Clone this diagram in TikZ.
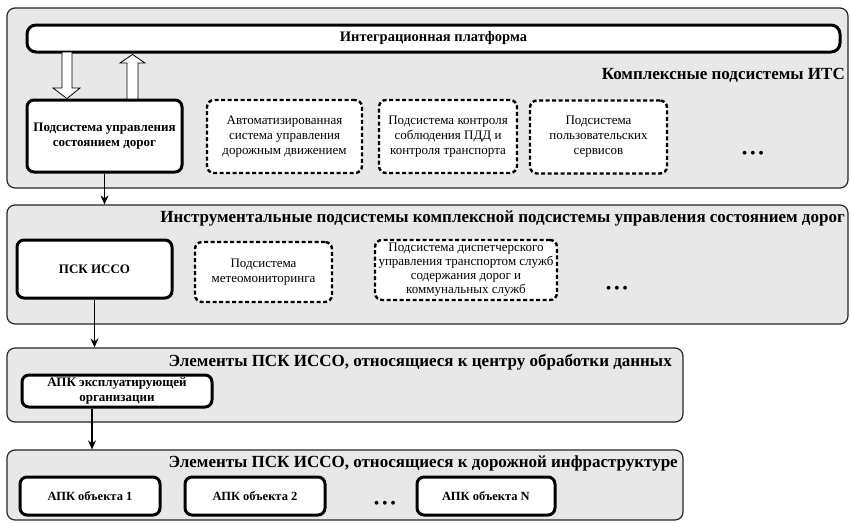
\documentclass[tikz,border=0pt]{standalone}
\usepackage{fontspec}
\setmainfont{Liberation Serif}
\usetikzlibrary{calc,arrows.meta}
\begin{document}
\begin{tikzpicture}[x=1pt,y=-1pt,
  panel/.style={draw=black!85, line width=1.2pt, rounded corners=8pt, fill=black!9, inner sep=0pt},
  thickbox/.style={draw, line width=3pt, rounded corners=7pt, fill=white, align=center, font=\fontsize{13}{15}\selectfont\bfseries, inner sep=0pt},
  dashbox/.style={draw, line width=2.4pt, dash pattern=on 4pt off 2.5pt, rounded corners=7pt, fill=white, align=center, font=\fontsize{13}{15}\selectfont, inner sep=0pt},
  ptitle/.style={font=\fontsize{17}{19}\selectfont\bfseries, inner sep=0pt, anchor=east},
  dots/.style={font=\fontsize{16}{16}\selectfont, inner sep=0pt},
  conn/.style={line width=1.4pt, -{Stealth[length=9pt,width=8pt]}},
  hollow/.style={draw=black, line width=0.8pt, fill=white}
]
\useasboundingbox (0,0) rectangle (851,522);

% Panel 1
\node[panel, minimum width=841pt, minimum height=180pt] (p1) at (427.5,98) {};
\node[thickbox, minimum width=813pt, minimum height=27pt, rounded corners=9pt, font=\fontsize{14.5}{16}\selectfont\bfseries] (ip) at (433.5,38.5) {Интеграционная платформа};
\node[ptitle] (t1) at (845,75) {Комплексные подсистемы ИТС};
\node[thickbox, minimum width=155pt, minimum height=72pt] (a) at (104.5,136) {Подсистема управления\\состоянием дорог};
\node[dashbox, minimum width=155pt, minimum height=73pt] (b1) at (284.5,136.5) {Автоматизированная\\система управления\\дорожным движением};
\node[dashbox, minimum width=138pt, minimum height=73pt] (b2) at (448,136.5) {Подсистема контроля\\соблюдения ПДД и\\контроля транспорта};
\node[dashbox, minimum width=137pt, minimum height=73pt] (b3) at (598.5,137) {Подсистема\\пользовательских\\сервисов};
\node[dots] (d1) at (753,155) {•\,•\,•};

% hollow arrows
\draw[hollow] (62,52) -- (62,88) -- (53,88) -- (67,98.5) -- (80,88) -- (72,88) -- (72,52) -- cycle;
\draw[hollow] (127,99) -- (127,63) -- (120,63) -- (132.5,54.5) -- (145,63) -- (138,63) -- (138,99) -- cycle;

% Panel 2
\node[panel, minimum width=841pt, minimum height=119pt] (p2) at (427.5,264.5) {};
\node[ptitle] (t2) at (845,218) {Инструментальные подсистемы комплексной подсистемы управления состоянием дорог};
\node[thickbox, minimum width=155pt, minimum height=58pt] (psk) at (94.5,269) {ПСК ИССО};
\node[dashbox, minimum width=137pt, minimum height=60pt] (m) at (263.5,272) {Подсистема\\метеомониторинга};
\node[dashbox, minimum width=182pt, minimum height=60pt, font=\fontsize{13}{14}\selectfont] (disp) at (466,270) {Подсистема диспетчерского\\управления транспортом служб\\содержания дорог и\\коммунальных служб};
\node[dots] (d2) at (617,290) {•\,•\,•};

% Panel 3
\node[panel, minimum width=676pt, minimum height=74pt] (p3) at (345,385) {};
\node[ptitle] (t3) at (672,362) {Элементы ПСК ИССО, относящиеся к центру обработки данных};
\node[thickbox, minimum width=190pt, minimum height=32pt, font=\fontsize{13}{15}\selectfont\bfseries] (apk) at (117,391) {АПК эксплуатирующей\\организации};

% Panel 4
\node[panel, minimum width=676pt, minimum height=70pt] (p4) at (345,485) {};
\node[ptitle] (t4) at (678,463) {Элементы ПСК ИССО, относящиеся к дорожной инфраструктуре};
\node[thickbox, minimum width=140pt, minimum height=38pt, font=\fontsize{12.5}{15}\selectfont\bfseries] (o1) at (90,496) {АПК объекта 1};
\node[thickbox, minimum width=140pt, minimum height=38pt, font=\fontsize{12.5}{15}\selectfont\bfseries] (o2) at (255,496) {АПК объекта 2};
\node[thickbox, minimum width=138pt, minimum height=38pt, font=\fontsize{12.5}{15}\selectfont\bfseries] (on) at (486,496) {АПК объекта N};
\node[dots] (d4) at (385,505) {•\,•\,•};

% connectors
\draw[conn] (a.south) -- (a.south |- p2.north);
\draw[conn] (psk.south) -- (psk.south |- p3.north);
\draw[conn] ([xshift=-25pt]apk.south) -- ([xshift=-25pt]apk.south |- p4.north);
\end{tikzpicture}
\end{document}
